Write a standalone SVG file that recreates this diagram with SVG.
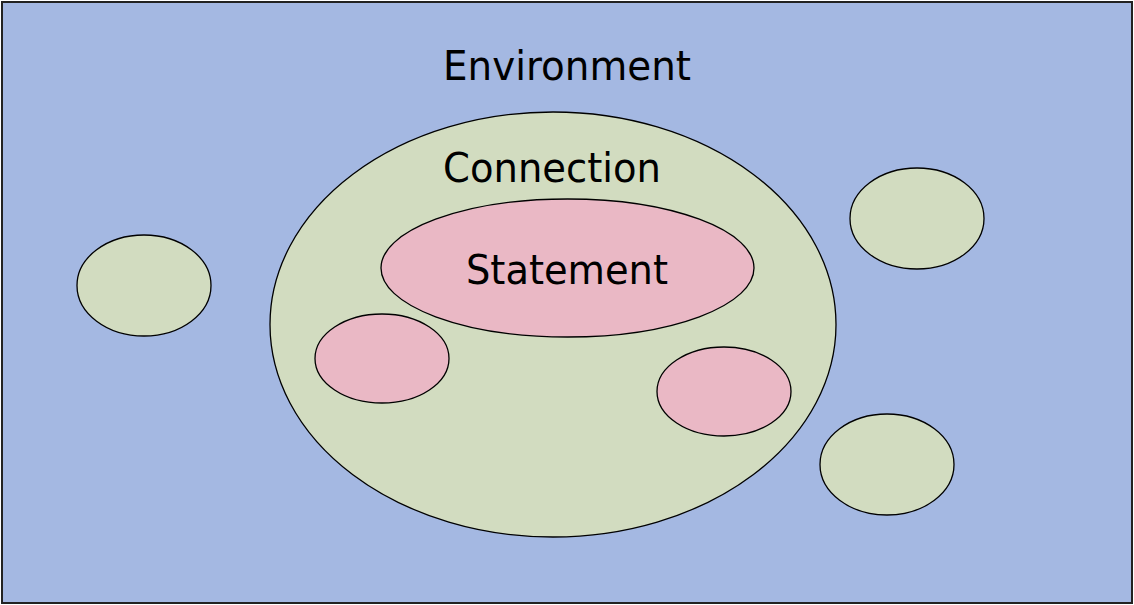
<svg xmlns="http://www.w3.org/2000/svg" width="1134" height="605" viewBox="0 0 1134 605">
<style>
.lbl{font-family:"DejaVu Sans","Verdana",sans-serif;font-size:40px;fill:#000}
.g{fill:#D2DCC0;stroke:#000;stroke-width:1.3}
.p{fill:#EAB8C5;stroke:#000;stroke-width:1.3}
</style>
<g id="environment">
<rect x="2" y="2" width="1130" height="601" fill="#A4B8E2" stroke="#222" stroke-width="2"/>
<text class="lbl" x="443" y="80" textLength="248" lengthAdjust="spacingAndGlyphs">Environment</text>
</g>
<g id="connection">
<ellipse class="g" cx="553" cy="324.5" rx="283" ry="212.5"/>
<text class="lbl" x="443" y="182" textLength="218" lengthAdjust="spacingAndGlyphs">Connection</text>
</g>
<g id="statement">
<ellipse class="p" cx="567.5" cy="268" rx="186.5" ry="69"/>
<text class="lbl" x="466" y="284" textLength="202" lengthAdjust="spacingAndGlyphs">Statement</text>
</g>
<g id="statement-left"><ellipse class="p" cx="382" cy="358.5" rx="67" ry="44.5"/></g>
<g id="statement-right"><ellipse class="p" cx="724" cy="391.5" rx="67" ry="44.5"/></g>
<g id="connection-left"><ellipse class="g" cx="144" cy="285.5" rx="67" ry="50.5"/></g>
<g id="connection-top-right"><ellipse class="g" cx="917" cy="218.5" rx="67" ry="50.5"/></g>
<g id="connection-bottom-right"><ellipse class="g" cx="887" cy="464.5" rx="67" ry="50.5"/></g>
<g id="connectors"></g>
</svg>
